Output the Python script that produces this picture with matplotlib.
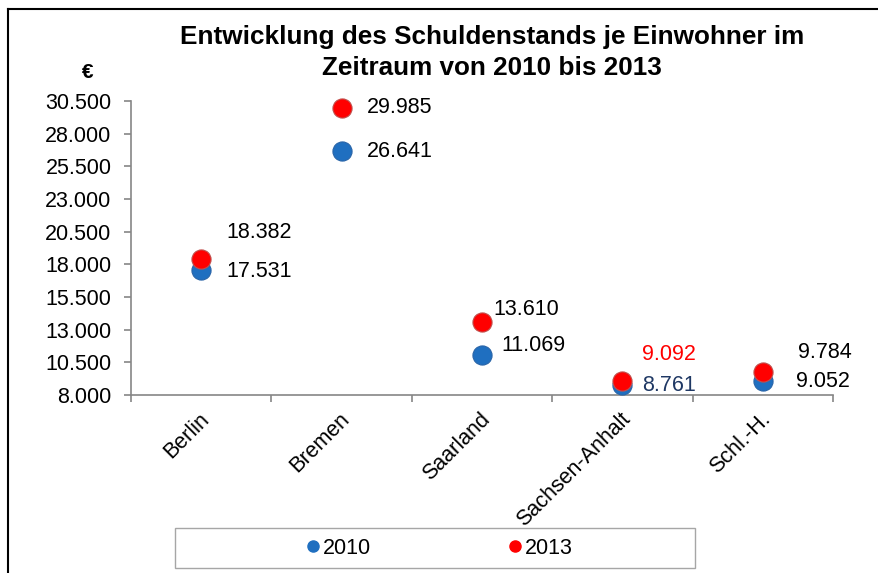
import matplotlib
matplotlib.use("Agg")
import matplotlib.pyplot as plt
from matplotlib.lines import Line2D
from matplotlib.patches import Rectangle
from matplotlib.ticker import FuncFormatter, FixedLocator
from matplotlib.transforms import ScaledTranslation

plt.rcParams['font.family'] = ['Liberation Sans', 'DejaVu Sans']

# data
laender = ['Berlin', 'Bremen', 'Saarland', 'Sachsen-Anhalt', 'Schl.-H.']
werte_2010 = [17531, 26641, 11069, 8761, 9052]
werte_2013 = [18382, 29985, 13610, 9092, 9784]
yticks = list(range(8000, 30501, 2500))

# label offsets (pixels, left edge / vertical centre relative to the marker)
off_2010 = [(25, -1), (25, 0), (19, 9), (20, 0), (33, 0)]
off_2013 = [(25, 27), (25, 0), (11, 12), (20, 26), (35, 19)]
col_2010 = ['black', 'black', 'black', '#1F3864', 'black']
col_2013 = ['black', 'black', 'black', '#FF0000', 'black']

BLUE = '#1F6FC0'
RED = '#FF0000'
GRAY = '#868686'

def de_fmt(v, pos=None):
    return '{:,.0f}'.format(v).replace(',', '.')

fig = plt.figure(figsize=(8.79, 5.73), dpi=100)
W, H = 879, 573
ax = fig.add_axes([131 / W, (H - 395) / H, (833 - 131) / W, (395 - 101) / H])

x = list(range(len(laender)))
ax.scatter(x, werte_2010, s=190, color=BLUE, edgecolors='#2A65A8', linewidths=0.8,
           zorder=3, label='2010', clip_on=False)
ax.scatter(x, werte_2013, s=190, color=RED, edgecolors='#C0504D', linewidths=0.8,
           zorder=4, label='2013', clip_on=False)

for i in x:
    ax.annotate(de_fmt(werte_2010[i]), (i, werte_2010[i]), xytext=off_2010[i],
                textcoords='offset pixels', ha='left', va='center', fontsize=15.5,
                color=col_2010[i])
    ax.annotate(de_fmt(werte_2013[i]), (i, werte_2013[i]), xytext=off_2013[i],
                textcoords='offset pixels', ha='left', va='center', fontsize=15.5,
                color=col_2013[i])

ax.set_xlim(-0.5, len(laender) - 0.5)
ax.set_ylim(8000, 30500)
ax.set_yticks(yticks)
ax.yaxis.set_major_formatter(FuncFormatter(de_fmt))
ax.set_xticks(x)
ax.set_xticklabels([])
ax.xaxis.set_minor_locator(FixedLocator([i - 0.5 for i in range(len(laender) + 1)]))
ax.tick_params(axis='x', which='major', length=0)
ax.tick_params(axis='x', which='minor', length=5, color=GRAY, width=1.2, direction='out')
ax.tick_params(axis='y', length=5, color=GRAY, width=1.2, labelsize=15.5, pad=9)

for sp in ['top', 'right']:
    ax.spines[sp].set_visible(False)
for sp in ['left', 'bottom']:
    ax.spines[sp].set_color(GRAY)
    ax.spines[sp].set_linewidth(1.2)

# rotated category labels, shifted slightly below the axis
shift = ax.transData + ScaledTranslation(0, -14 / 100, fig.dpi_scale_trans)
for i, name in enumerate(laender):
    ax.text(i - 0.02, 8000, name, transform=shift, rotation=45,
            rotation_mode='anchor', ha='right', va='top', fontsize=15.5)

fig.text(492 / W, (H - 52.5) / H, 'Entwicklung des Schuldenstands je Einwohner im\nZeitraum von 2010 bis 2013',
         ha='center', va='center', fontsize=18.8, fontweight='bold', linespacing=1.38)
fig.text(88 / W, (H - 72) / H, '€', ha='center', va='center', fontsize=15, fontweight='bold')

# legend box and entries
fig.patches.append(Rectangle((175 / W, (H - 568) / H), 520 / W, 40 / H, transform=fig.transFigure,
                             facecolor='none', edgecolor='#A6A6A6', linewidth=1))
handles = [Line2D([], [], marker='o', linestyle='none', color=BLUE, markersize=8),
           Line2D([], [], marker='o', linestyle='none', color=RED, markersize=8)]
fig.legend(handles, ['2010', '2013'], loc='center', bbox_to_anchor=(440 / W, (H - 548) / H),
           ncol=2, frameon=False, fontsize=15.5, handlelength=0.6, handletextpad=0.15,
           columnspacing=6.4)

# outer frame (left and top edge)
fig.add_artist(Line2D([8 / W, 8 / W], [0, (H - 9) / H], transform=fig.transFigure, color='black', linewidth=1.5))
fig.add_artist(Line2D([8 / W, 1], [(H - 9) / H, (H - 9) / H], transform=fig.transFigure, color='black', linewidth=1.5))

fig.savefig('out.png', dpi=100, facecolor='white')
